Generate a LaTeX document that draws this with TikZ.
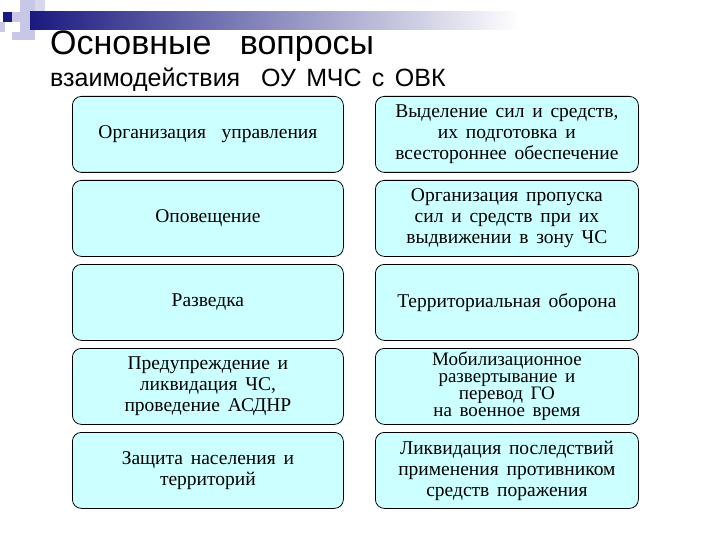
\documentclass[tikz,border=0pt]{standalone}
\usepackage{fontspec}
\setmainfont{Liberation Serif}[WordSpace={1.6}]
\newfontfamily\hsans{Liberation Sans}[WordSpace={1.5}]
\definecolor{boxc}{HTML}{CCFFFF}
\definecolor{navy}{HTML}{1A1A80}
\definecolor{lav}{HTML}{C8C8E6}
\begin{document}
\begin{tikzpicture}[x=1pt,y=-1pt,
  box/.style={draw=black,line width=0.8pt,rounded corners=9pt,fill=boxc,
    align=center,font=\fontsize{19.5}{21}\selectfont,inner sep=0pt}]
\useasboundingbox (0,0) rectangle (720,540);
\fill[white] (0,0) rectangle (720,540);
% decoration
\fill[lav] (20,0) rectangle (35,12);
\fill[lav] (0,22) rectangle (5,32);
\fill[lav] (20,22) rectangle (35,40);
\fill[lav!70] (35,0) rectangle (45,12);
\fill[lav] (12,32) rectangle (20,40);
\shade[left color=navy,right color=white] (30,12) rectangle (520,30);
\fill[navy] (3,12) rectangle (12,22);
\fill[lav] (12,12) rectangle (30,22);
% titles
\node[anchor=base west,font=\hsans\fontsize{34}{35}\selectfont,inner sep=0pt] (t1) at (50,55) {Основные\ \ вопросы};
\node[anchor=base west,font=\hsans\fontsize{25}{27}\selectfont,inner sep=0pt] (t2) at (50,87) {взаимодействия\ \ ОУ\ МЧС\ с\ ОВК};
% boxes
\foreach \n/\t/\tx in {1/96/{Организация\ \ управления},2/180/{Оповещение},3/264/{Разведка},
  4/348/{Предупреждение\ и\\ликвидация\ ЧС,\\проведение\ АСДНР},5/432/{Защита\ населения\ и\\территорий}}{
  \node[box,minimum width=271pt,minimum height=76pt,anchor=north west] (l\n) at (72,\t) {\tx};}
\foreach \n/\t/\tx in {1/96/{Выделение\ сил\ и\ средств,\\их\ подготовка\ и\\всестороннее\ обеспечение},
  2/180/{Организация\ пропуска\\сил\ и\ средств\ при\ их\\выдвижении\ в\ зону\ ЧС},
  3/264/{Территориальная\ оборона},
  5/432/{Ликвидация\ последствий\\применения\ противником\\средств\ поражения}}{
  \node[box,minimum width=263pt,minimum height=76pt,anchor=north west] (r\n) at (375,\t) {\tx};}
\node[box,minimum width=263pt,minimum height=76pt,anchor=north west,font=\fontsize{19}{16.5}\selectfont] (r4) at (375,348) {Мобилизационное\\развертывание\ и\\перевод\ ГО\\на\ военное\ время};
\end{tikzpicture}
\end{document}
